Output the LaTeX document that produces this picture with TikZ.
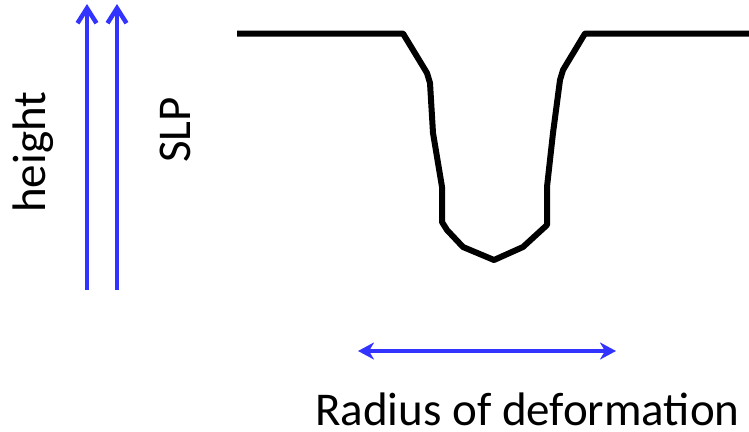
\documentclass[tikz,border=0pt]{standalone}
\usepackage{fontspec}
\setmainfont{Carlito}
\usetikzlibrary{arrows.meta}
\definecolor{arrblue}{RGB}{51,51,255}
\tikzset{
  varrow/.style={draw=arrblue, line width=4.5pt, -{Straight Barb[length=15pt,width=19pt,line width=4.5pt]}},
  harrow/.style={draw=arrblue, line width=4pt, {Stealth[length=16pt,width=17pt,inset=5pt]}-{Stealth[length=16pt,width=17pt,inset=5pt]}},
  profile/.style={draw=black, line width=6pt},
  lbl/.style={font=\fontsize{47}{52}\selectfont, inner sep=0pt},
}
\begin{document}
\begin{tikzpicture}[x=1pt,y=-1pt]
\useasboundingbox (0,0) rectangle (749,431);
% vertical arrows
\coordinate (h0) at (87,290);
\coordinate (h1) at (87,4);
\coordinate (s0) at (117,290);
\coordinate (s1) at (117,4);
\draw[varrow] (h0) -- (h1);
\draw[varrow] (s0) -- (s1);
% labels
\node[lbl, rotate=90, anchor=base west] (height) at (45,213) {height};
\node[lbl, rotate=90, anchor=base west] (slp) at (190,163) {SLP};
% profile
\draw[profile, line join=round] (237,33.5) -- (403,33.5)
  -- (427,73) -- (430,83) -- (433,133) -- (442,187) -- (442,222)
  -- (447,230) -- (463,247) -- (494,260) -- (523,247) -- (547,225)
  -- (547,187) -- (553,133) -- (560,80) -- (563,70) -- (585,33.5) -- (749,33.5);
% horizontal arrow
\coordinate (r0) at (358,351);
\coordinate (r1) at (616,351);
\draw[harrow] (r0) -- (r1);
\node[lbl, anchor=base west] (radius) at (315,425) {Radius of deformation};
\end{tikzpicture}
\end{document}
